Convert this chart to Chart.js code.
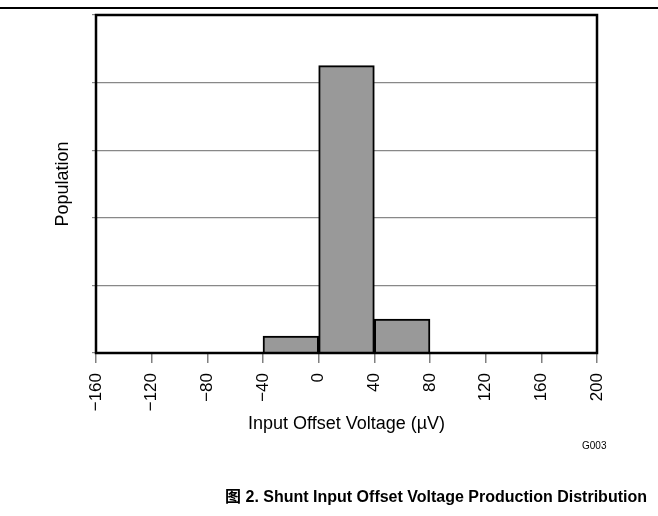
<!DOCTYPE html>
<html>
<head>
<meta charset="utf-8">
<script src="https://cdn.jsdelivr.net/npm/chart.js@4.4.1/dist/chart.umd.min.js"></script>
<style>
  html, body { margin: 0; padding: 0; background: #fff; }
  #wrap { position: relative; width: 658px; height: 516px; overflow: hidden; font-family: "Liberation Sans", Arial, "Noto Sans CJK SC", sans-serif; }
  #topline { position: absolute; left: 0; top: 7px; width: 658px; height: 2px; background: #000; }
  #chart { position: absolute; left: 0; top: 0; }
  #code { position: absolute; left: 582px; top: 440px; font-size: 10px; color: #000; }
  #caption { position: absolute; right: 11px; top: 486px; font-size: 16px; font-weight: bold; line-height: 22px; color: #000; white-space: nowrap; }
</style>
</head>
<body>
<div id="wrap">
  <div id="topline"></div>
  <canvas id="chart" width="658" height="516"></canvas>
  <div id="code">G003</div>
  <div id="caption">图 2. Shunt Input Offset Voltage Production Distribution</div>
</div>
<script>
// histogram bins (left edge, µV) and population (relative, grid units)
const binStarts = [-40, 0, 40];
const binWidth = 40;
const population = [0.25, 4.25, 0.5];

const xTickValues = [-160, -120, -80, -40, 0, 40, 80, 120, 160, 200];
const yTickValues = [0, 1, 2, 3, 4, 5];

const FONT = '"Liberation Sans", Arial, sans-serif';

// frame around the plot area, drawn last so it sits over the bar bottoms
const framePlugin = {
    id: 'frame',
    afterDraw(chart) {
        const { ctx, chartArea: a } = chart;
        ctx.save();
        ctx.strokeStyle = '#000';
        ctx.lineWidth = 2.5;
        ctx.strokeRect(a.left, a.top, a.right - a.left, a.bottom - a.top);
        ctx.restore();
    }
};

const fmt = v => (v < 0 ? '\u2212' + Math.abs(v) : String(v));

new Chart(document.getElementById('chart'), {
    type: 'bar',
    data: {
        datasets: [{
            data: binStarts.map((x, i) => ({ x: x + binWidth / 2, y: population[i] })),
            backgroundColor: '#999999',
            borderColor: '#000',
            borderWidth: 2,
            barPercentage: 1,
            categoryPercentage: 1
        }]
    },
    options: {
        responsive: false,
        animation: false,
        events: [],
        layout: { padding: { left: 0, right: 61, top: 15, bottom: 78 } },
        plugins: { legend: { display: false }, tooltip: { enabled: false } },
        scales: {
            x: {
                type: 'linear',
                min: xTickValues[0],
                max: xTickValues[xTickValues.length - 1],
                offset: false,
                afterBuildTicks: s => { s.ticks = xTickValues.map(v => ({ value: v })); },
                afterFit: s => { s.height = 85; },
                border: { display: false },
                grid: { offset: false, drawOnChartArea: false, drawTicks: true, tickLength: 10, color: '#808080', lineWidth: 1.5 },
                ticks: {
                    autoSkip: false,
                    maxRotation: 90,
                    minRotation: 90,
                    padding: 10,
                    color: '#000',
                    font: { family: FONT, size: 17 },
                    callback: v => fmt(v)
                },
                title: {
                    display: true,
                    text: 'Input Offset Voltage (µV)',
                    color: '#000',
                    font: { family: FONT, size: 18 },
                    padding: { top: 0, bottom: 3 }
                }
            },
            y: {
                min: yTickValues[0],
                max: yTickValues[yTickValues.length - 1],
                afterBuildTicks: s => { s.ticks = yTickValues.map(v => ({ value: v })); },
                afterFit: s => { s.width = 96; },
                border: { display: false },
                grid: { color: '#888', lineWidth: 1.2, tickLength: 4 },
                ticks: { display: false },
                title: {
                    display: true,
                    text: 'Population',
                    color: '#000',
                    font: { family: FONT, size: 18 },
                    padding: { top: 52, bottom: 0 }
                }
            }
        }
    },
    plugins: [framePlugin]
});
</script>
</body>
</html>
